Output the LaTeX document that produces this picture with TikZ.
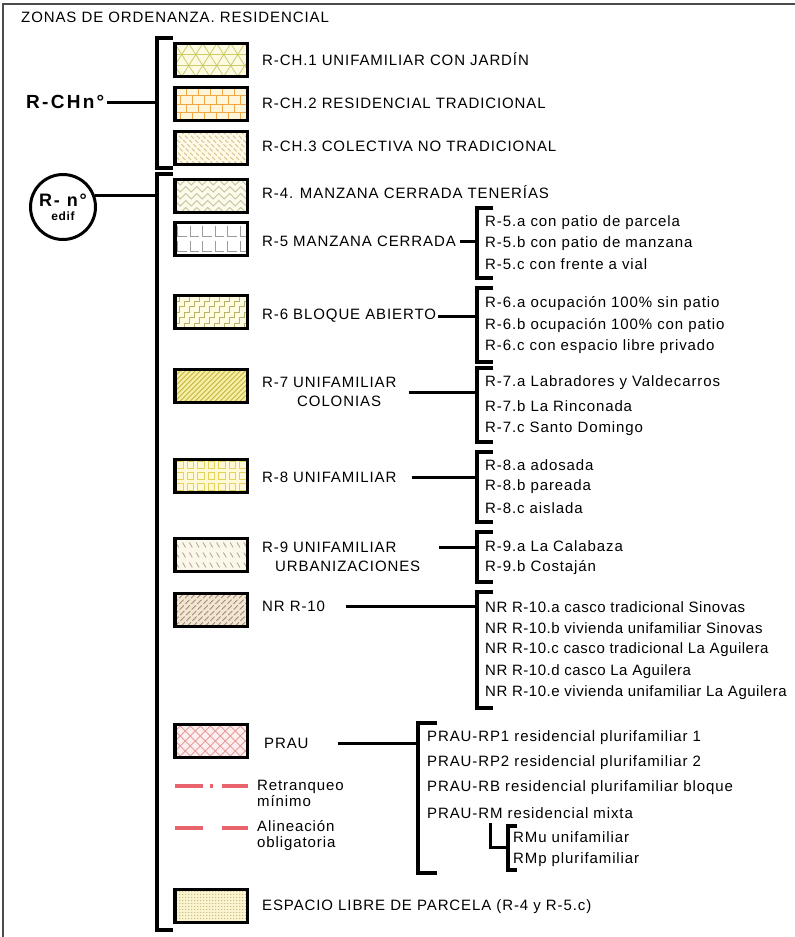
\documentclass[tikz,border=0pt]{standalone}
\usepackage{fontspec}
\setmainfont{Liberation Sans}[LetterSpace=6]
\usetikzlibrary{positioning}

% Swatch colours (fill / pattern line).
\definecolor{redline}{HTML}{E8636B}
\definecolor{trifill}{HTML}{FDFBE2}  \definecolor{trilin}{HTML}{CDCB6A}
\definecolor{brickfill}{HTML}{FFF5DA}\definecolor{bricklin}{HTML}{F0A844}
\definecolor{hatchfill}{HTML}{FFFAE8}\definecolor{hatchlin}{HTML}{D2C088}
\definecolor{herrfill}{HTML}{FCFAEC} \definecolor{herrlin}{HTML}{C8C29A}
\definecolor{llin}{HTML}{9C9C9C}
\definecolor{stepfill}{HTML}{FFFCE2} \definecolor{steplin}{HTML}{B9B26A}
\definecolor{diagfill}{HTML}{F6EEA4} \definecolor{diaglin}{HTML}{C4B43E}
\definecolor{sqfill}{HTML}{FFF9D8}   \definecolor{sqlin}{HTML}{E4D25C}
\definecolor{dashfill}{HTML}{FBF7EA} \definecolor{dashlin}{HTML}{B0A690}
\definecolor{nrfill}{HTML}{F2E6D3}   \definecolor{nrlin}{HTML}{A48C76}
\definecolor{praufill}{HTML}{FDEFEF} \definecolor{praulin}{HTML}{E59A9A}
\definecolor{dotfill}{HTML}{FBF4D0}  \definecolor{dotlin}{HTML}{C4B474}

% Swatch: name, centre y, fill, pattern (local box 72.5 x 33).
\newcommand{\swatch}[4]{%
  \begin{scope}[shift={(174.75,#2-16.5)}]
    \fill[#3] (0,0) rectangle (72.5,33);
    \clip (0,0) rectangle (72.5,33);
    #4
  \end{scope}
  \node[box] (#1) at (211,#2) {};}

\begin{document}
\begin{tikzpicture}[x=1pt, y=-1pt,
  txt/.style={anchor=west, inner sep=0pt, align=left,
    font=\fontsize{15}{19}\selectfont},
  box/.style={draw=black, line width=3.5pt, minimum width=72.5pt,
    minimum height=33pt, inner sep=0pt},
  conn/.style={line width=3pt},
  brk/.style={line width=4pt},
  fine/.style={line width=0.8pt}]
  \useasboundingbox (0,0) rectangle (795,937);
  % Frame and title.
  \draw[gray!60!black, line width=1.2pt] (3,937) -- (3,4) -- (795,4);
  \node[txt] (title) at (21,17) {ZONAS DE ORDENANZA. RESIDENCIAL};

  % Trunk and bracket x positions.
  \coordinate (kl) at (157,0);
  \coordinate (kr) at (477,0);
  \coordinate (kp) at (418,0);

  % Swatches.
  \swatch{s1}{60}{trifill}{%
    \foreach \i in {-3,...,7} \draw[trilin, fine] (\i*14,0) -- ++(21,33) (\i*14,0) -- ++(-21,33);
    \draw[trilin, fine] (0,11) -- (73,11) (0,22) -- (73,22);}
  \swatch{s2}{104}{brickfill}{%
    \foreach \r in {0,...,3} {
      \draw[bricklin, fine] (0,\r*8.25) -- (73,\r*8.25);
      \foreach \c in {0,...,6} \draw[bricklin, fine] ({\c*12+mod(\r,2)*6},\r*8.25) -- ++(0,8.25);}}
  \swatch{s3}{148}{hatchfill}{%
    \foreach \i in {-36,-30,...,72} \draw[hatchlin, fine, dash pattern=on 4pt off 2pt] (\i,0) -- ++(33,33);}
  \swatch{s4}{196}{herrfill}{%
    \foreach \j in {-1,...,5} \draw[herrlin, fine] (0,\j*7) \foreach \k in {0,...,6} {-- ++(5.5,5.5) -- ++(5.5,-5.5)};}
  \swatch{s5}{239}{white}{%
    \foreach \r in {3,18} \foreach \i in {0,...,5} \draw[llin, line width=1pt] (\i*12.5+3,\r) -- ++(0,11) -- ++(9,0);}
  \swatch{s6}{312}{stepfill}{%
    \foreach \i in {-40,-30,...,70} \draw[steplin, fine] (\i,33) \foreach \k in {1,...,6} {-- ++(0,-5.5) -- ++(5,0)};}
  \swatch{s7}{386}{diagfill}{%
    \foreach \i in {-36,-31,...,75} \draw[diaglin, line width=1pt] (\i,33) -- ++(33,-33);}
  \swatch{s8}{476}{sqfill}{%
    \foreach \r in {2,13,24} \foreach \i in {0,...,6} \draw[sqlin, fine] (\i*10.5+2,\r) rectangle ++(6.5,6.5);}
  \swatch{s9}{555}{dashfill}{%
    \foreach \r in {4,14,24} \foreach \i in {0,...,10} \draw[dashlin, fine] (\i*6.8+1,\r) -- ++(3,5);}
  \swatch{s10}{610}{nrfill}{%
    \foreach \i in {-36,-30,...,75} \draw[nrlin, fine, dash pattern=on 6pt off 2pt] (\i,33) -- ++(33,-33);}
  \swatch{s11}{741}{praufill}{%
    \foreach \i in {-36,-26,...,75} \draw[praulin, fine] (\i,33) -- ++(33,-33) (\i,0) -- ++(33,33);}
  \swatch{s12}{906}{dotfill}{%
    \foreach \r in {2,5,...,32} \foreach \i in {2,5,...,71} \fill[dotlin] (\i,\r) circle (0.55);}

  % Swatch labels.
  \node[txt] (l1)  at (262,59)  {R-CH.1 UNIFAMILIAR CON JARDÍN};
  \node[txt] (l2)  at (262,103) {R-CH.2 RESIDENCIAL TRADICIONAL};
  \node[txt] (l3)  at (262,146) {R-CH.3 COLECTIVA NO TRADICIONAL};
  \node[txt] (l4)  at (262,192) {R-4. MANZANA CERRADA TENERÍAS};
  \node[txt] (l5)  at (262,241) {R-5 MANZANA CERRADA};
  \node[txt] (l6)  at (262,316) {R-6 BLOQUE ABIERTO};
  \node[txt] (l7)  at (262,392) {R-7 UNIFAMILIAR\\\hspace*{35pt}COLONIAS};
  \node[txt] (l8)  at (262,477) {R-8 UNIFAMILIAR};
  \node[txt] (l9)  at (262,547) {R-9 UNIFAMILIAR};
  \node[txt] (l9b) at (275,566) {URBANIZACIONES};
  \node[txt] (l10) at (262,606) {NR R-10};
  \node[txt] (l11) at (264,743) {PRAU};
  \node[txt] (l12) at (262,907) {ESPACIO LIBRE DE PARCELA (R-4 y R-5.c)};

  % Line legend.
  \draw[redline, line width=3.5pt, dash pattern=on 28pt off 7pt on 3pt off 9pt on 26pt] (175,786) -- (248,786);
  \draw[redline, line width=3.5pt, dash pattern=on 28pt off 19pt on 26pt] (175,828) -- (248,828);
  \node[txt, font=\fontsize{15}{16}\selectfont] (leg1) at (257,793) {Retranqueo\\mínimo};
  \node[txt, font=\fontsize{15}{16}\selectfont] (leg2) at (257,836) {Alineación\\obligatoria};

  % Group keys.
  \node[txt, font=\fontsize{19}{19}\selectfont\bfseries\addfontfeature{LetterSpace=12}] (rch) at (26,102) {R-CHn°};
  \node[circle, draw, line width=3pt, minimum size=65pt, inner sep=0pt, align=center] (rn) at (63,207)
    {\fontsize{18}{18}\selectfont\bfseries\addfontfeature{LetterSpace=10}R- n°\\[2pt]
     \fontsize{12}{12}\selectfont\bfseries edif};

  % Main brackets.
  \draw[brk] (173,38) -| (157,168) -- (173,168);
  \draw[brk] (173,174) -| (157,930) -- (173,930);
  \draw[conn] ([xshift=3pt]rch.east) -- (rch.east -| kl);
  \draw[conn] (rn.20) -- (rn.20 -| kl);

  % Sub-type lists.
  \foreach \t [count=\k] in {R-5.a con patio de parcela, R-5.b con patio de manzana, R-5.c con frente a vial}
    \node[txt] (r5\k) at (485,{223+20.5*(\k-1)}) {\t};
  \foreach \t [count=\k] in {R-6.a ocupación 100\% sin patio, R-6.b ocupación 100\% con patio, R-6.c con espacio libre privado}
    \node[txt] (r6\k) at (485,{304+21.5*(\k-1)}) {\t};
  \foreach \t [count=\k] in {R-7.a Labradores y Valdecarros, R-7.b La Rinconada, R-7.c Santo Domingo}
    \node[txt] (r7\k) at (485,{383+23*(\k-1)}) {\t};
  \foreach \t [count=\k] in {R-8.a adosada, R-8.b pareada, R-8.c aislada}
    \node[txt] (r8\k) at (485,{465+21.5*(\k-1)}) {\t};
  \foreach \t [count=\k] in {R-9.a La Calabaza, R-9.b Costaján}
    \node[txt] (r9\k) at (485,{546+22*(\k-1)}) {\t};
  \foreach \t [count=\k] in {NR R-10.a casco tradicional Sinovas, NR R-10.b vivienda unifamiliar Sinovas,
      NR R-10.c casco tradicional La Aguilera, NR R-10.d casco La Aguilera, NR R-10.e vivienda unifamiliar La Aguilera}
    \node[txt, font=\fontsize{15}{19}\selectfont\addfontfeature{LetterSpace=3.5}] (r10\k) at (485,{607+21.5*(\k-1)}) {\t};
  \foreach \t [count=\k] in {PRAU-RP1 residencial plurifamiliar 1, PRAU-RP2 residencial plurifamiliar 2,
      PRAU-RB residencial plurifamiliar bloque, PRAU-RM residencial mixta}
    \node[txt] (pr\k) at (427,{738+25*(\k-1)}) {\t};
  \node[txt] (rmu) at (513,837) {RMu unifamiliar};
  \node[txt] (rmp) at (513,860) {RMp plurifamiliar};

  % Sub-type brackets.
  \draw[brk] (493,208) -| (477,278) -- (493,278);
  \draw[brk] (493,288) -| (477,362) -- (493,362);
  \draw[brk] (493,368) -| (477,442) -- (493,442);
  \draw[brk] (493,452) -| (477,522) -- (493,522);
  \draw[brk] (493,532) -| (477,582) -- (493,582);
  \draw[brk] (493,592) -| (477,708) -- (493,708);
  \draw[brk] (437,723) -| (418,873) -- (437,873);
  \draw[brk] (517,826) -| (508,870) -- (517,870);

  % Connectors to brackets.
  \draw[conn] ([xshift=4pt]l5.east) -- (l5.east -| kr);
  \draw[conn] ([xshift=2pt]l6.east) -- (l6.east -| kr);
  \draw[conn] ([xshift=12pt]l7.east) -- (l7.east -| kr);
  \draw[conn] ([xshift=15pt]l8.east) -- (l8.east -| kr);
  \draw[conn] ([xshift=42pt]l9.east) -- (l9.east -| kr);
  \draw[conn] ([xshift=21pt]l10.east) -- (l10.east -| kr);
  \draw[conn] ([xshift=29pt]l11.east) -- (l11.east -| kp);
  \coordinate (rm) at (490,823);
  \coordinate (sb) at (508,847);
  \draw[conn] (rm) |- (sb);
\end{tikzpicture}
\end{document}
